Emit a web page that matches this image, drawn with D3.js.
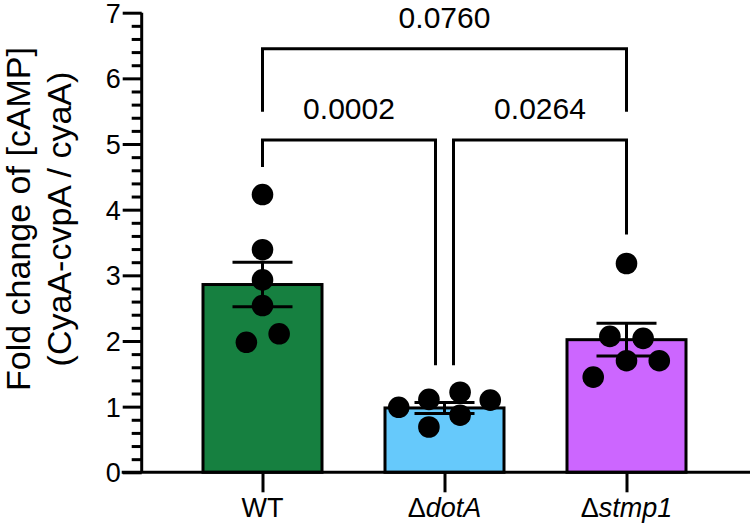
<!DOCTYPE html>
<html>
<head>
<meta charset="utf-8">
<script src="https://cdn.jsdelivr.net/npm/d3@7"></script>
<style>
  html, body { margin: 0; padding: 0; background: #fff; }
  svg { display: block; }
  text { font-family: "Liberation Sans", Arial, sans-serif; fill: #000; }
</style>
</head>
<body>
<svg id="chart" width="750" height="526"></svg>
<script>
// ---- data ----
const categories = ["WT", "dotA", "stmp1"];
const categoryItalic = ["", "dotA", "stmp1"];
const categoryPrefix = ["WT", "\u0394", "\u0394"];
const means = [2.86, 0.98, 2.02];
const sems = [0.34, 0.085, 0.25];
const pointsWT = [4.23, 3.39, 2.93, 2.54, 2.11, 1.98];
const pointsDotA = [0.99, 1.11, 0.69, 1.22, 0.87, 1.10];
const pointsStmp1 = [3.18, 2.07, 2.04, 1.70, 1.70, 1.45];
const pointJitter = [
  [0, 0, 0, 0, 0.32, -0.31],
  [-0.88, -0.30, -0.30, 0.30, 0.30, 0.88],
  [0, -0.32, 0.32, 0, 0.63, -0.64]
];
const yTicks = [0, 1, 2, 3, 4, 5, 6, 7];
const pValues = ["0.0760", "0.0002", "0.0264"];
// comparisons: [from, to, barLevel, leftEnd, rightEnd]
const comparisons = [
  ["WT", "stmp1", 6.45, 5.49, 5.49],
  ["WT", "dotA", 5.06, 4.65, 1.63],
  ["dotA", "stmp1", 5.06, 1.63, 3.62]
];
const colors = ["#168040", "#66c9fb", "#cc66ff"];

// ---- layout ----
const svg = d3.select("#chart");
const y = d3.scaleLinear().domain([0, 7]).range([472.3, 12.7]);
const x = d3.scalePoint().domain(categories).range([171.5, 717.5]).padding(0.5);
const barW = 119;
const axisX = 141.7;
const lw = 3;

const allPoints = [pointsWT, pointsDotA, pointsStmp1];

// bars
svg.selectAll("rect.bar").data(categories).join("rect")
  .attr("class", "bar")
  .attr("x", d => x(d) - barW / 2)
  .attr("y", (d, i) => y(means[i]))
  .attr("width", barW)
  .attr("height", (d, i) => y(0) - y(means[i]))
  .attr("fill", (d, i) => colors[i])
  .attr("stroke", "#000")
  .attr("stroke-width", lw);

// error bars
const capW = 30;
categories.forEach((c, i) => {
  const g = svg.append("g");
  const cx = x(c);
  g.append("line").attr("x1", cx).attr("x2", cx)
    .attr("y1", y(means[i] - sems[i])).attr("y2", y(means[i] + sems[i]))
    .attr("stroke", "#000").attr("stroke-width", lw);
  [means[i] - sems[i], means[i] + sems[i]].forEach(v => {
    g.append("line").attr("x1", cx - capW).attr("x2", cx + capW)
      .attr("y1", y(v)).attr("y2", y(v))
      .attr("stroke", "#000").attr("stroke-width", lw);
  });
});

// points
categories.forEach((c, i) => {
  svg.append("g").selectAll("circle").data(allPoints[i]).join("circle")
    .attr("cx", (d, j) => x(c) + pointJitter[i][j] * 52)
    .attr("cy", d => y(d))
    .attr("r", 10.8)
    .attr("fill", "#000");
});

// y axis
const yAxis = d3.axisLeft(y)
  .tickValues(d3.range(0, 7.01, 0.2).map(v => +v.toFixed(1)))
  .tickSize(10)
  .tickFormat(d => yTicks.includes(d) ? d : "");
const gy = svg.append("g").attr("transform", `translate(${axisX},0)`).call(yAxis);
gy.select(".domain").attr("stroke", "#000").attr("stroke-width", lw)
  .attr("d", `M0,${y(7)}V${y(0)}`);
gy.selectAll(".tick line").attr("stroke", "#000").attr("stroke-width", lw)
  .attr("x2", d => yTicks.includes(d) ? -19 : -10);
gy.selectAll(".tick text")
  .attr("x", -21)
  .attr("dy", "0.35em")
  .style("font-size", "27px")
  .style("font-family", "'Liberation Sans', Arial, sans-serif");

// x axis
svg.append("line").attr("x1", axisX - 20).attr("x2", 750)
  .attr("y1", y(0)).attr("y2", y(0))
  .attr("stroke", "#000").attr("stroke-width", lw);
const xAxis = d3.axisBottom(x).tickSize(20).tickFormat("");
const gx = svg.append("g").attr("transform", `translate(0,${y(0)})`).call(xAxis);
gx.select(".domain").remove();
gx.selectAll(".tick line").attr("stroke", "#000").attr("stroke-width", lw);

// x labels
categories.forEach((c, i) => {
  const t = svg.append("text")
    .attr("x", x(c)).attr("y", 517)
    .attr("text-anchor", "middle")
    .style("font-size", "27px");
  if (i === 0) {
    t.text(categoryPrefix[i]);
  } else {
    t.append("tspan").text(categoryPrefix[i]);
    t.append("tspan").style("font-style", "italic").text(categoryItalic[i]);
  }
});

// y title
const title = svg.append("text")
  .attr("transform", `translate(0,219) rotate(-90)`)
  .attr("text-anchor", "middle")
  .style("font-size", "34px");
title.append("tspan").attr("x", 0).attr("y", 30).text("Fold change of [cAMP]");
title.append("tspan").attr("x", 0).attr("y", 71).text("(CyaA-cvpA / cyaA)");

// significance brackets
comparisons.forEach((cmp, k) => {
  const xa = x(cmp[0]) + (cmp[0] === "dotA" ? 9 : 0);
  const xb = x(cmp[1]) - (cmp[1] === "dotA" ? 9 : 0);
  const path = d3.path();
  path.moveTo(xa, y(cmp[3]));
  path.lineTo(xa, y(cmp[2]));
  path.lineTo(xb, y(cmp[2]));
  path.lineTo(xb, y(cmp[4]));
  svg.append("path").attr("d", path.toString())
    .attr("fill", "none").attr("stroke", "#000").attr("stroke-width", lw);
  svg.append("text")
    .attr("x", (xa + xb) / 2)
    .attr("y", y(cmp[2]) - 21)
    .attr("text-anchor", "middle")
    .style("font-size", "30px")
    .text(pValues[k]);
});
</script>
</body>
</html>
